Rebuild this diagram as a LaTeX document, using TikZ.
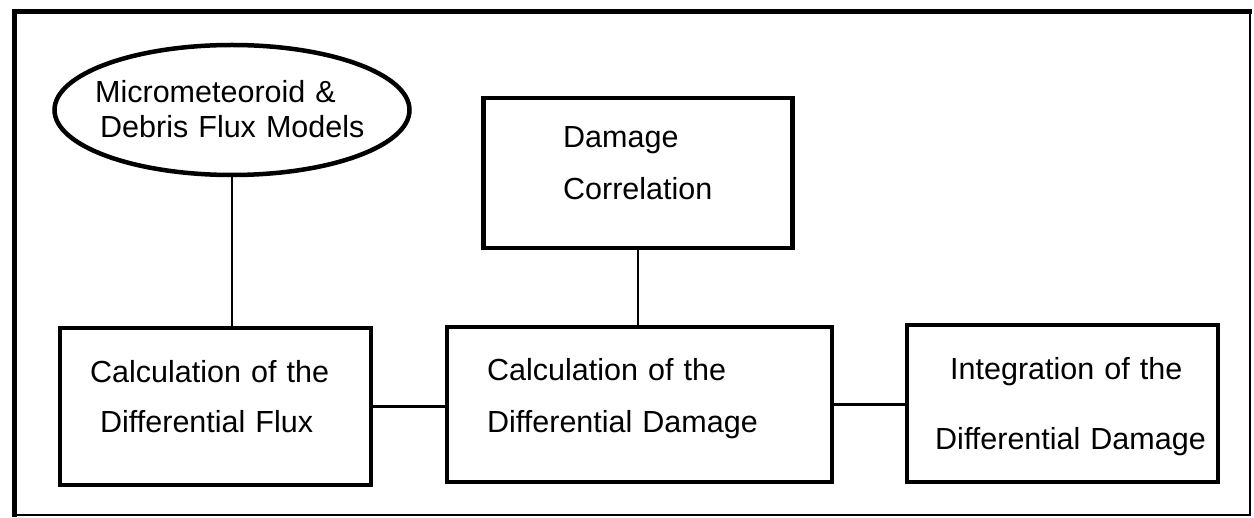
\documentclass[tikz,border=0pt]{standalone}
\usepackage{fontspec}
\setmainfont[Ligatures=NoCommon]{Liberation Sans}
\usetikzlibrary{shapes.geometric}
\newcommand\diagfont{\fontsize{30.5}{36}\selectfont\spaceskip=0.33em plus 0.1em minus 0.1em\relax}
\begin{document}
\begin{tikzpicture}[x=1pt,y=-1pt,
  boxnode/.style={draw,line width=4.5pt,rectangle,inner sep=0pt},
  ellnode/.style={draw,line width=4.5pt,ellipse,inner sep=0pt},
  txt/.style={anchor=base west,inner sep=0pt,font=\diagfont},
  conn/.style={line width=2.5pt}]
\useasboundingbox (0,0) rectangle (1254,518);
% outer frame
\draw[line width=2.5pt] (14,12) rectangle (1250,515);
\draw[line width=5pt] (14,517) -- (14,12) -- (1252,12);
% shapes
\node[ellnode,minimum width=355pt,minimum height=130pt] (ell) at (232,110) {};
\node[boxnode,minimum width=309pt,minimum height=150pt] (corr) at (638,173) {};
\node[boxnode,minimum width=311pt,minimum height=157pt] (calc1) at (215.5,406.5) {};
\node[boxnode,minimum width=385pt,minimum height=155pt] (mid) at (639.5,404.5) {};
\node[boxnode,minimum width=311pt,minimum height=157pt] (integ) at (1062.5,403.5) {};
% texts
\node[txt] (t1) at (95,103) {Micrometeoroid \&};
\node[txt] (t2) at (100,138) {Debris Flux Models};
\node[txt] (t3) at (563,148) {Damage};
\node[txt] (t4) at (563,200) {Correlation};
\node[txt] (t5) at (90,383) {Calculation of the};
\node[txt] (t6) at (100,433) {Differential Flux};
\node[txt] (t7) at (487,381) {Calculation of the};
\node[txt] (t8) at (487,433) {Differential Damage};
\node[txt] (t9) at (950,380) {Integration of the};
\node[txt] (t10) at (935,450) {Differential Damage};
% connectors
\draw[conn] (ell.south) -- (ell.south |- calc1.north);
\draw[conn] (corr.south) -- (corr.south |- mid.north);
\draw[conn] (calc1.east) -- (calc1.east -| mid.west);
\draw[conn] (mid.east) -- (mid.east -| integ.west);
\end{tikzpicture}
\end{document}
